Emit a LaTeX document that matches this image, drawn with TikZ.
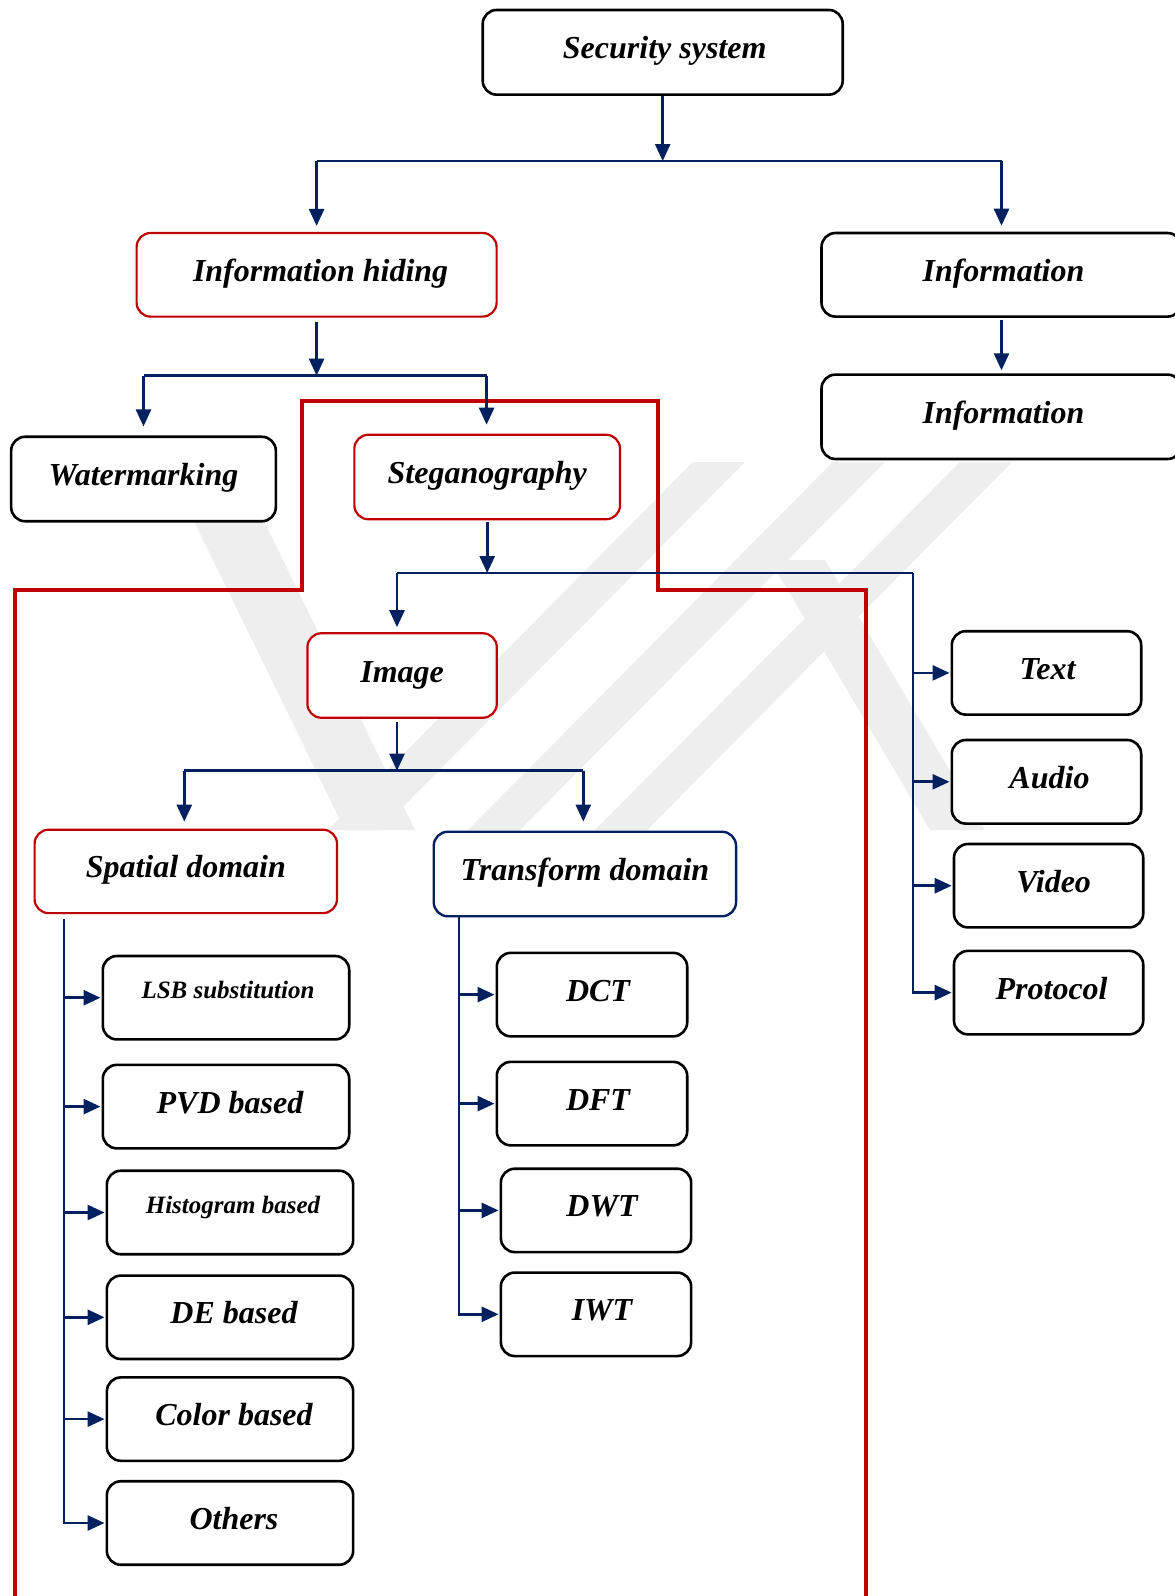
\documentclass[tikz,border=0pt]{standalone}
\usepackage{fontspec}
\setmainfont{Liberation Serif}
\usetikzlibrary{arrows.meta}
\definecolor{navy}{HTML}{002060}
\definecolor{dred}{HTML}{C00000}
\definecolor{wmgray}{HTML}{EEEEEE}
\begin{document}
\begin{tikzpicture}[x=1pt,y=-1pt,
  bx/.style={draw=black,line width=2.6pt,rounded corners=14pt,fill=white,inner sep=0pt},
  rbx/.style={bx,draw=dred,line width=2.2pt},
  nbx/.style={bx,draw=navy,line width=2.4pt},
  lab/.style={font=\fontsize{32}{36}\selectfont\bfseries\itshape,text height=22pt,text depth=7pt,inner sep=0pt},
  slab/.style={font=\fontsize{25}{30}\selectfont\bfseries\itshape,text height=17pt,text depth=5.5pt,inner sep=0pt},
  con/.style={draw=navy,line width=2.7pt},
  arr/.style={con,-{Triangle[length=17pt,width=15pt]}},
  wm/.style={fill=wmgray,draw=none}]
\useasboundingbox (0,0) rectangle (1175,1596);
\clip (0,0) rectangle (1175,1596);
\fill[white] (0,0) rectangle (1175,1596);
% watermark
\path[wm] (165,462) -- (235,462) -- (415,830) -- (345,830) -- cycle;
\path[wm] (693,462) -- (745,462) -- (380,830) -- (328,830) -- cycle;
\path[wm] (833,462) -- (885,462) -- (520,830) -- (468,830) -- cycle;
\path[wm] (960,462) -- (1012,462) -- (647,830) -- (595,830) -- cycle;
\path[wm] (770,560) -- (825,560) -- (985,830) -- (930,830) -- cycle;
% red frame
\draw[dred,line width=4pt] (15.3,1600) -- (15.3,590.4) -- (302.3,590.4) -- (302.3,401.1)
  -- (657.6,401.1) -- (657.6,590.4) -- (866.3,590.4) -- (866.3,1600);
% boxes
\node[bx,minimum width=360pt,minimum height=84.7pt] (sec) at (662.7,52.3) {};
\node[rbx,minimum width=360pt,minimum height=83.6pt] (ih) at (316.6,274.8) {};
\node[bx,minimum width=360pt,minimum height=83.6pt] (inf1) at (1001.5,274.8) {};
\node[bx,minimum width=360pt,minimum height=84.4pt] (inf2) at (1001.5,416.8) {};
\node[bx,minimum width=264.7pt,minimum height=84.5pt] (wm) at (143.5,479) {};
\node[rbx,minimum width=265.7pt,minimum height=84.5pt] (steg) at (487.2,477) {};
\node[rbx,minimum width=189.4pt,minimum height=84.5pt] (img) at (402.1,675.5) {};
\node[rbx,minimum width=302.4pt,minimum height=83.4pt] (spa) at (185.8,871.4) {};
\node[nbx,minimum width=302.3pt,minimum height=84.5pt] (tra) at (584.9,874) {};
\node[bx,minimum width=189.4pt,minimum height=83.4pt] (txt) at (1046.5,672.9) {};
\node[bx,minimum width=189.4pt,minimum height=83.6pt] (aud) at (1046.5,781.8) {};
\node[bx,minimum width=189.3pt,minimum height=83.4pt] (vid) at (1048.6,885.7) {};
\node[bx,minimum width=189.3pt,minimum height=83.5pt] (pro) at (1048.6,992.6) {};
\node[bx,minimum width=246.4pt,minimum height=83.4pt] (lsb) at (226,997.7) {};
\node[bx,minimum width=246.4pt,minimum height=83.5pt] (pvd) at (226,1106.6) {};
\node[bx,minimum width=246.3pt,minimum height=83.5pt] (his) at (230,1212.5) {};
\node[bx,minimum width=246.3pt,minimum height=83.4pt] (de) at (230,1317.3) {};
\node[bx,minimum width=246.3pt,minimum height=83.4pt] (col) at (230,1419.1) {};
\node[bx,minimum width=246.3pt,minimum height=83.5pt] (oth) at (230,1523) {};
\node[bx,minimum width=190.4pt,minimum height=83.5pt] (dct) at (592,994.6) {};
\node[bx,minimum width=190.4pt,minimum height=83.5pt] (dft) at (592,1103.6) {};
\node[bx,minimum width=190.3pt,minimum height=83.4pt] (dwt) at (596,1210.4) {};
\node[bx,minimum width=190.3pt,minimum height=83.5pt] (iwt) at (596,1314.3) {};
% labels
\node[lab] at ([xshift=2pt,yshift=1pt]sec.center) {Security system};
\node[lab] at ([xshift=4pt,yshift=1pt]ih.center) {Information hiding};
\node[lab] at ([xshift=2pt,yshift=1pt]inf1.center) {Information};
\node[lab] at ([xshift=2pt,yshift=1pt]inf2.center) {Information};
\node[lab] at ([yshift=1pt]wm.center) {Watermarking};
\node[lab] at ([yshift=1pt]steg.center) {Steganography};
\node[lab] at ([yshift=1pt]img.center) {Image};
\node[lab] at ([yshift=1pt]spa.center) {Spatial domain};
\node[lab] at ([yshift=1pt]tra.center) {Transform domain};
\node[lab] at ([xshift=1pt,yshift=1pt]txt.center) {Text};
\node[lab] at ([xshift=3pt,yshift=1pt]aud.center) {Audio};
\node[lab] at ([xshift=5pt,yshift=1pt]vid.center) {Video};
\node[lab] at ([xshift=3pt,yshift=1pt]pro.center) {Protocol};
\node[slab] at ([xshift=2pt,yshift=5pt]lsb.center) {LSB substitution};
\node[lab] at ([xshift=4pt,yshift=1pt]pvd.center) {PVD based};
\node[slab] at ([xshift=3pt,yshift=5pt]his.center) {Histogram based};
\node[lab] at ([xshift=4pt,yshift=1pt]de.center) {DE based};
\node[lab] at ([xshift=4pt,yshift=1pt]col.center) {Color based};
\node[lab] at ([xshift=4pt,yshift=1pt]oth.center) {Others};
\node[lab] at ([xshift=6pt,yshift=1pt]dct.center) {DCT};
\node[lab] at ([xshift=6pt,yshift=1pt]dft.center) {DFT};
\node[lab] at ([xshift=6pt,yshift=1pt]dwt.center) {DWT};
\node[lab] at ([xshift=6pt,yshift=1pt]iwt.center) {IWT};
% junction coordinates
\coordinate (j1) at (662.7,161);
\coordinate (j1l) at (316.6,161);
\coordinate (j1r) at (1001.5,161);
\coordinate (j2) at (316.6,375.6);
\coordinate (j2l) at (143.5,375.6);
\coordinate (j2r) at (486.6,375.6);
\coordinate (j3) at (487.2,573);
\coordinate (j3l) at (397,573);
\coordinate (j3r) at (913,573);
\coordinate (j4) at (397,770.6);
\coordinate (j4l) at (184.3,770.6);
\coordinate (j4r) at (583.3,770.6);
\coordinate (sx) at (64.1,919);
\coordinate (tx) at (459.1,916.2);
% connectors
\draw[arr] (sec.south) -- (j1);
\draw[con] (j1l) -- (j1r);
\draw[arr,shorten >=6pt] (j1l) -- (ih.north);
\draw[arr,shorten >=6pt] (j1r) -- (inf1.north);
\draw[arr,shorten <=2pt,shorten >=3pt] (inf1.south) -- (inf2.north);
\draw[arr,shorten <=4pt] (ih.south) -- (j2);
\draw[con] (j2l) -- (j2r);
\draw[arr,shorten >=9pt] (j2l) -- (wm.north);
\draw[arr,shorten >=9pt] (j2r) -- (j2r |- steg.north);
\draw[arr,shorten <=2pt] (steg.south) -- (j3);
\draw[con] (j3l) -- (j3r);
\draw[arr,shorten >=5pt] (j3l) -- (j3l |- img.north);
\draw[arr,shorten >=1pt] (j3r) |- (txt.west);
\draw[arr,shorten >=1pt] (j3r) |- (aud.west);
\draw[arr,shorten >=1pt] (j3r) |- (vid.west);
\draw[arr,shorten >=1pt] (j3r) |- (pro.west);
\draw[arr,shorten <=3pt] (j3l |- img.south) -- (j4);
\draw[con] (j4l) -- (j4r);
\draw[arr,shorten >=7pt] (j4l) -- (j4l |- spa.north);
\draw[arr,shorten >=9pt] (j4r) -- (j4r |- tra.north);
\draw[arr,shorten >=1pt] (sx) |- (lsb.west);
\draw[arr,shorten >=1pt] (sx) |- (pvd.west);
\draw[arr,shorten >=1pt] (sx) |- (his.west);
\draw[arr,shorten >=1pt] (sx) |- (de.west);
\draw[arr,shorten >=1pt] (sx) |- (col.west);
\draw[arr,shorten >=1pt] (sx) |- (oth.west);
\draw[arr,shorten >=1pt] (tx) |- (dct.west);
\draw[arr,shorten >=1pt] (tx) |- (dft.west);
\draw[arr,shorten >=1pt] (tx) |- (dwt.west);
\draw[arr,shorten >=1pt] (tx) |- (iwt.west);
\end{tikzpicture}
\end{document}
